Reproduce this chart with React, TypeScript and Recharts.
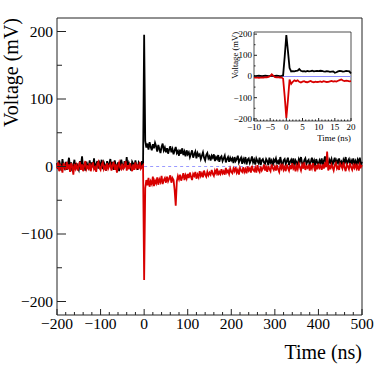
import { LineChart, Line, XAxis, YAxis, ReferenceArea } from "recharts";

// main traces: sampled every 2.5 ns from -200 ns (index 80 = trigger at 0 ns)
const MAIN_T0 = -200;
const MAIN_DT = 2.5;

const blackMain = [
  // pre-trigger
  5, -4, 9, 2, -6, 11, 0, -3, 7, -5,
  3, 13, -2, 6, -7, 1, 10, -4, 5, -1,
  -5, 8, 2, 15, -3, 4, -6, 7, 1, -2,
  9, -4, 6, -1, 12, -5, 3, 8, -3, 5,
  0, 10, -4, 6, 2, -6, 8, -1, 4, 11,
  -3, 7, -5, 9, 1, -2, 6, -7, 3, 10,
  2, -4, 8, -1, 14, -3, 5, 0, -6, 7,
  4, -2, 9, 1, -5, 6, 3, -3, 8, 2,
  // pulse
  195,
  // tail
  38, 28, 34, 25, 36, 29, 24, 33, 27, 35,
  30, 22, 32, 26, 20, 29, 34, 24, 28, 21,
  27, 19, 25, 30, 21, 26, 18, 24, 29, 20,
  23, 16, 25, 19, 27, 17, 22, 15, 24, 18,
  21, 14, 19, 24, 13, 18, 22, 12, 20, 16,
  18, 11, 16, 21, 13, 9, 17, 20, 12, 15,
  9, 16, 13, 18, 8, 14, 11, 17, 7, 13,
  15, 8, 12, 16, 6, 11, 14, 7, 13, 9,
  12, 5, 14, 8, 11, 16, 6, 10, 13, 4,
  11, 7, 14, 3, 10, 12, 5, 9, 15, 6,
  10, 3, 12, 8, 5, 13, 2, 9, 11, 6,
  4, 11, 8, 2, 13, 6, 9, 1, 10, 7,
  12, 5, 8, 3, 14, 6, 1, 9, 11, 4,
  8, 13, 2, 7, 10, 4, 12, 0, 9, 6,
  3, 11, 7, 14, 5, 1, 9, 12, 4, 8,
  10, 2, 7, 13, 5, 9, 0, 11, 6, 3,
  9, 5, 12, 2, 8, 15, 4, 7, 1, 10,
  6, 11, 3, 8, 13, 2, 9, 5, 12, 4,
  7, 1, 10, 6, 14, 3, 8, 11, 2, 9,
  5, 12, 4, 8, 1, 10, 6, 13, 3, 7,
];

const redMain = [
  // pre-trigger
  -3, 6, -7, 2, -1, -9, 5, 0, -5, 7,
  -4, 3, -8, 5, 0, -12, 4, -3, 2, -6,
  1, 7, -5, 3, -7, 2, 8, -4, 0, -3,
  5, -7, 1, 6, -4, -1, -8, 4, 7, -2,
  -5, 3, 6, -4, 0, -6, 5, -3, 1, 4,
  -6, 2, 7, -5, 3, -9, 1, 6, -2, -4,
  4, -3, 0, 8, -6, 2, -4, 5, -1, -7,
  3, -5, 6, -2, 1, -4, 7, -3, 0, 2,
  // pulse
  -168,
  // tail
  -32, -20, -28, -17, -30, -22, -26, -15, -29, -21,
  -25, -16, -27, -19, -23, -14, -26, -20, -17, -24,
  -15, -22, -18, -13, -24, -17, -20, -35, -58, -22,
  -14, -19, -12, -21, -16, -10, -20, -13, -18, -11,
  -17, -9, -15, -20, -11, -14, -8, -18, -12, -16,
  -7, -14, -10, -16, -6, -12, -15, -8, -13, -9,
  -12, -5, -11, -14, -6, -10, -3, -13, -8, -11,
  -4, -10, -7, -12, -2, -9, -6, -11, -3, -8,
  -10, -3, -7, -1, -9, -5, -12, -2, -6, -8,
  -1, -8, -4, -10, 0, -6, -3, -9, 1, -5,
  -7, -2, -9, 2, -5, -8, 0, -6, -3, 3,
  -6, -1, -8, 1, -4, -7, 3, -2, -5, 0,
  -6, 2, -4, -8, 1, -3, 4, -5, -1, -7,
  3, -2, -6, 2, -4, 5, -3, 0, -7, 1,
  -4, 4, -1, -6, 2, -3, 6, -5, 0, -2,
  3, -6, 1, -3, 5, -1, -7, 2, -4, 4,
  -2, 1, -5, 3, -3, 6, -1, 22, -6, 2,
  -4, 3, -1, -6, 2, 5, -3, 0, -5, 4,
  1, -3, 6, -2, -7, 3, 0, -4, 5, -1,
  -5, 2, -2, 4, -3, 1, -6, 3, -1, 2,
];

// inset: zoom on the pulse, sampled every 0.5 ns from -10 ns
const INSET_T0 = -10;
const INSET_DT = 0.5;

const blackInset = [
  3, 2, 3, 4, 3, 2, 3, 4, 3, 2,
  3, 4, 2, 3, 4, 3, 2, 3, 5, 95,
  195, 120, 40, 24, 25, 24, 26, 28, 35, 27,
  24, 25, 23, 26, 24, 25, 27, 24, 25, 26,
  25, 27, 26, 24, 23, 25, 24, 22, 23, 24,
  18, 20, 24, 26, 25, 23, 24, 26, 25, 24,
  14,
];

const redInset = [
  -4, -5, -4, -6, -5, -4, -5, -3, -4, -2,
  2, 10, 3, -3, -4, -3, -5, -4, -10, -95,
  -195, -110, -15, -35, -25, -18, -22, -18, -25, -28,
  -24, -22, -26, -27, -24, -21, -25, -27, -24, -26,
  -25, -23, -26, -22, -24, -26, -25, -23, -21, -24,
  -22, -24, -20, -17, -14, -19, -22, -20, -21, -23,
  -22,
];

const mainXTicks = [
  -200, -180, -160, -140, -120, -100, -80, -60, -40, -20,
  0, 20, 40, 60, 80, 100, 120, 140, 160, 180,
  200, 220, 240, 260, 280, 300, 320, 340, 360, 380,
  400, 420, 440, 460, 480, 500,
];
const mainXLabels = [-200, -100, 0, 100, 200, 300, 400, 500];
const mainYTicks = [-200, -150, -100, -50, 0, 50, 100, 150, 200];
const mainYLabels = [-200, -100, 0, 100, 200];

const insetXTicks = [
  -10, -9, -8, -7, -6, -5, -4, -3, -2, -1,
  0, 1, 2, 3, 4, 5, 6, 7, 8, 9,
  10, 11, 12, 13, 14, 15, 16, 17, 18, 19, 20,
];
const insetXLabels = [-10, -5, 0, 5, 10, 15, 20];
const insetYTicks = [-200, -150, -100, -50, 0, 50, 100, 150, 200];
const insetYLabels = [-200, -100, 0, 100, 200];

const baseline = [
  { t: 0, v: 0 },
  { t: 500, v: 0 },
];
const insetBaseline = [
  { t: -10, v: 0 },
  { t: 20, v: 0 },
];

const mainData = blackMain.map((v, i) => ({
  t: MAIN_T0 + i * MAIN_DT,
  black: v,
  red: redMain[i],
}));

const insetData = blackInset.map((v, i) => ({
  t: INSET_T0 + i * INSET_DT,
  black: v,
  red: redInset[i],
}));

const FONT = "'Liberation Serif', 'Times New Roman', Times, serif";
const AXIS = "#222";
const RED = "#d80000";
const textStyle = { fontFamily: FONT };

const fmt = (v: number) => (v < 0 ? "\u2212" + Math.abs(v) : String(v));

// ROOT-style ticks: drawn inward, labels only on majors
function xTick(labels: number[], majorLen: number, minorLen: number, fontSize: number, dy: number) {
  return (props: any) => {
    const { x, y, payload } = props;
    const major = labels.includes(payload.value);
    return (
      <g>
        <line x1={x} x2={x} y1={y} y2={y - (major ? majorLen : minorLen)} stroke={AXIS} />
        {major && (
          <text x={x} y={y + dy} textAnchor="middle" fontSize={fontSize} style={textStyle} fill="#000">
            {fmt(payload.value)}
          </text>
        )}
      </g>
    );
  };
}

function yTick(labels: number[], majorLen: number, minorLen: number, fontSize: number, dx: number) {
  return (props: any) => {
    const { x, y, payload } = props;
    const major = labels.includes(payload.value);
    return (
      <g>
        <line x1={x} x2={x + (major ? majorLen : minorLen)} y1={y} y2={y} stroke={AXIS} />
        {major && (
          <text x={x - dx} y={y + fontSize * 0.33} textAnchor="end" fontSize={fontSize} style={textStyle} fill="#000">
            {fmt(payload.value)}
          </text>
        )}
      </g>
    );
  };
}

function MainChart() {
  return (
    <LineChart width={382} height={371} data={mainData} margin={{ top: 18, right: 20, left: 56, bottom: 55 }}>
      <XAxis
        dataKey="t"
        type="number"
        domain={[-200, 500]}
        ticks={mainXTicks}
        interval={0}
        height={1}
        axisLine={false}
        tickLine={false}
        tickSize={0}
        tickMargin={0}
        tick={xTick(mainXLabels, 6, 3, 15.5, 14)}
      />
      <YAxis
        type="number"
        domain={[-220, 220]}
        ticks={mainYTicks}
        interval={0}
        width={1}
        axisLine={false}
        tickLine={false}
        tickSize={0}
        tickMargin={0}
        tick={yTick(mainYLabels, 9, 5, 15.5, 4)}
      />
      <Line
        data={baseline}
        dataKey="v"
        stroke="#9a9aff"
        strokeDasharray="3 3"
        strokeWidth={1}
        dot={false}
        isAnimationActive={false}
      />
      <Line dataKey="black" stroke="#000" strokeWidth={1.8} dot={false} isAnimationActive={false} />
      <Line dataKey="red" stroke={RED} strokeWidth={1.8} dot={false} isAnimationActive={false} />
      <ReferenceArea x1={-200} x2={500} y1={-220} y2={220} fill="none" stroke={AXIS} strokeWidth={1} />
    </LineChart>
  );
}

function InsetChart() {
  return (
    <LineChart width={382} height={371} data={insetData} margin={{ top: 32, right: 31, left: 253, bottom: 249 }}>
      <XAxis
        dataKey="t"
        type="number"
        domain={[-10, 20]}
        ticks={insetXTicks}
        interval={0}
        height={1}
        axisLine={false}
        tickLine={false}
        tickSize={0}
        tickMargin={0}
        tick={xTick(insetXLabels, 3, 1.5, 9, 9)}
      />
      <YAxis
        type="number"
        domain={[-210, 210]}
        ticks={insetYTicks}
        interval={0}
        width={1}
        axisLine={false}
        tickLine={false}
        tickSize={0}
        tickMargin={0}
        tick={yTick(insetYLabels, 3, 1.5, 9, 2)}
      />
      <Line data={insetBaseline} dataKey="v" stroke="#8c8cff" strokeWidth={1.2} dot={false} isAnimationActive={false} />
      <Line dataKey="black" stroke="#000" strokeWidth={1.8} dot={false} isAnimationActive={false} />
      <Line dataKey="red" stroke={RED} strokeWidth={1.8} dot={false} isAnimationActive={false} />
      <ReferenceArea x1={-10} x2={20} y1={-210} y2={210} fill="none" stroke={AXIS} strokeWidth={0.8} />
    </LineChart>
  );
}

export default function App() {
  const layer = { position: "absolute" as const, left: 0, top: 0 };
  return (
    <div style={{ position: "absolute", left: 0, top: 0, width: 382, height: 371, background: "#fff" }}>
      <div style={layer}>
        <MainChart />
      </div>
      <div style={layer}>
        <InsetChart />
      </div>
      <svg width={382} height={371} style={{ ...layer, pointerEvents: "none" }}>
        <text transform="translate(18,18) rotate(-90)" textAnchor="end" fontSize={20} style={textStyle}>
          Voltage (mV)
        </text>
        <text x={362} y={359} textAnchor="end" fontSize={20} style={textStyle}>
          Time (ns)
        </text>
        <text transform="translate(238,32) rotate(-90)" textAnchor="end" fontSize={8.6} style={textStyle}>
          Voltage (mV)
        </text>
        <text x={351} y={141} textAnchor="end" fontSize={8.7} style={textStyle}>
          Time (ns)
        </text>
      </svg>
    </div>
  );
}
